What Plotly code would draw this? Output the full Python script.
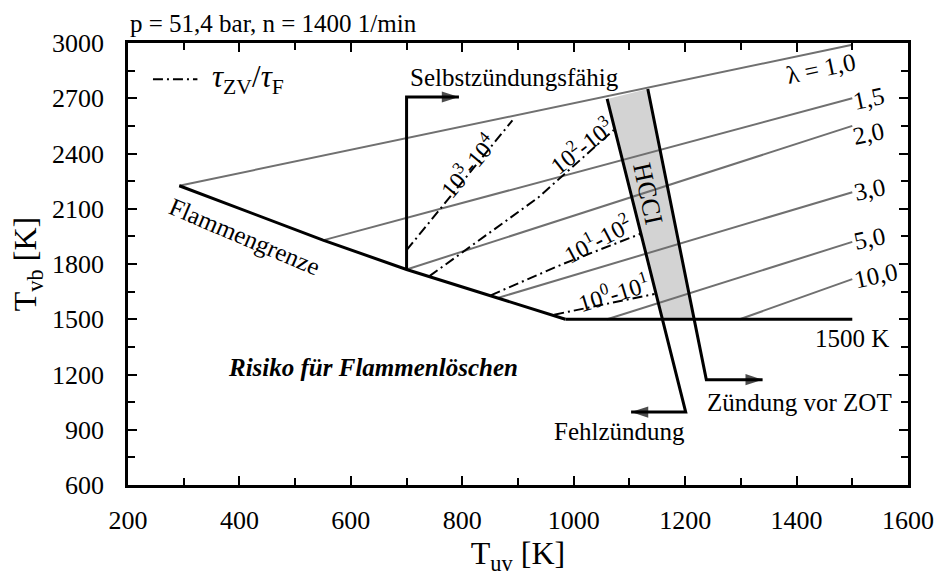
import plotly.graph_objects as go

SERIF = "Liberation Serif, Times New Roman, serif"

# Axis ranges and ticks
x_range = [200, 1600]
y_range = [600, 3000]
x_major, x_minor = 200, 100
y_major, y_minor = 300, 150

# Flammengrenze (flame limit) and the 1500 K floor
flame_T_uv = [292, 550, 700, 850, 985]
flame_T_vb = [2225, 1930, 1770, 1630, 1500]
floor_T_uv = [985, 1500]
floor_T_vb = [1500, 1500]

# Air-ratio lines lambda: start on the limit curve, end at T_uv = 1500 K
lambda_labels = ["λ = 1,0", "1,5", "2,0", "3,0", "5,0", "10,0"]
lambda_uv_start = [292, 553, 700, 865, 1060, 1298]
lambda_vb_start = [2225, 1931, 1770, 1617, 1500, 1500]
lambda_uv_end = [1500, 1500, 1500, 1500, 1500, 1500]
lambda_vb_end = [2990, 2700, 2550, 2190, 1920, 1718]
lambda_label_uv = [1444, 1529, 1529, 1531, 1531, 1543]
lambda_label_vb = [2860, 2700, 2506, 2205, 1938, 1736]

# Ignition delay / flame time ratio lines
ratio_labels = ["10<sup>3</sup>-10<sup>4</sup>", "10<sup>2</sup>-10<sup>3</sup>",
                "10<sup>1</sup>-10<sup>2</sup>", "10<sup>0</sup>-10<sup>1</sup>"]
ratio_uv = [[700, 890], [741, 936, 1072], [851, 979, 1120], [965, 1145]]
ratio_vb = [[1875, 2580], [1734, 2160, 2528], [1630, 1798, 1964], [1525, 1637]]
ratio_label_uv = [810, 1014, 1043, 1071]
ratio_label_vb = [2338, 2445, 1940, 1648]
ratio_label_angle = [-50, -38, -28, -17]

# HCCI band: left boundary (misfire) and right boundary (ignition before TDC)
hcci_fill_uv = [1060, 1133, 1216, 1159]
hcci_fill_vb = [2696, 2750, 1500, 1500]
misfire_uv = [1060, 1201, 1103]
misfire_vb = [2696, 996, 996]
early_uv = [1133, 1238, 1339]
early_vb = [2750, 1172, 1172]

# Autoignition boundary
selbst_uv = [700, 700, 794]
selbst_vb = [1770, 2707, 2707]

GRAY = "#707070"
DASHDOT = "10px,4px,2px,4px"
fig = go.Figure()

fig.add_trace(go.Scatter(x=hcci_fill_uv, y=hcci_fill_vb, fill="toself",
                         fillcolor="#d3d3d3", line=dict(width=0),
                         mode="lines", showlegend=False, hoverinfo="skip"))

for i in range(len(lambda_labels)):
    fig.add_trace(go.Scatter(x=[lambda_uv_start[i], lambda_uv_end[i]],
                             y=[lambda_vb_start[i], lambda_vb_end[i]],
                             mode="lines", line=dict(color=GRAY, width=2),
                             showlegend=False))

for i in range(len(ratio_labels)):
    fig.add_trace(go.Scatter(x=ratio_uv[i], y=ratio_vb[i], mode="lines",
                             line=dict(color="black", width=2, dash=DASHDOT),
                             showlegend=False))

fig.add_trace(go.Scatter(x=flame_T_uv, y=flame_T_vb, mode="lines",
                         line=dict(color="black", width=3), showlegend=False))
fig.add_trace(go.Scatter(x=floor_T_uv, y=floor_T_vb, mode="lines",
                         line=dict(color="black", width=3), showlegend=False))

for xs, ys in [(selbst_uv, selbst_vb), (misfire_uv, misfire_vb), (early_uv, early_vb)]:
    fig.add_trace(go.Scatter(x=xs, y=ys, mode="lines+markers",
                             line=dict(color="black", width=3),
                             marker=dict(symbol="arrow", angleref="previous",
                                         size=[0, 0, 18], color="black",
                                         line=dict(width=0)),
                             showlegend=False))

ann = []
for i, t in enumerate(lambda_labels):
    ann.append(dict(x=lambda_label_uv[i], y=lambda_label_vb[i], text=t,
                    textangle=-12, showarrow=False, font=dict(size=25)))
for i, t in enumerate(ratio_labels):
    ann.append(dict(x=ratio_label_uv[i], y=ratio_label_vb[i], text=t,
                    textangle=ratio_label_angle[i], showarrow=False,
                    font=dict(size=24)))

ann += [
    dict(x=1133, y=2183, text="HCCI", textangle=78, showarrow=False, font=dict(size=26)),
    dict(x=409, y=1948, text="Flammengrenze", textangle=23, showarrow=False, font=dict(size=25)),
    dict(x=893, y=2814, text="Selbstzündungsfähig", showarrow=False, font=dict(size=25)),
    dict(x=640, y=1236, text="<b><i>Risiko für Flammenlöschen</i></b>", showarrow=False,
         font=dict(size=25)),
    dict(x=1500, y=1397, text="1500 K", showarrow=False, font=dict(size=25)),
    dict(x=1405, y=1049, text="Zündung vor ZOT", showarrow=False, font=dict(size=25)),
    dict(x=1082, y=889, text="Fehlzündung", showarrow=False, font=dict(size=25)),
    dict(x=0, y=1, xref="paper", yref="paper", xanchor="left", yanchor="bottom",
         yshift=4, text="p = 51,4 bar, n = 1400 1/min", showarrow=False,
         font=dict(size=25)),
    # key for the dash-dot ratio lines
    dict(x=0.105, y=0.918, xref="paper", yref="paper", xanchor="left", yanchor="middle",
         text="<i>τ</i><sub>ZV</sub>/<i>τ</i><sub>F</sub>", showarrow=False,
         font=dict(size=31)),
]

key_line = dict(type="line", xref="paper", yref="paper", x0=0.032, x1=0.089,
                y0=0.918, y1=0.918, line=dict(color="black", width=2, dash=DASHDOT))

axis_common = dict(showline=True, linecolor="black", linewidth=2.5, mirror="allticks",
                   ticks="inside", ticklen=9, tickwidth=1.5, tickcolor="black",
                   showgrid=False, zeroline=False,
                   tickfont=dict(family=SERIF, size=26, color="black"))

fig.update_layout(
    width=946, height=577,
    margin=dict(l=128, r=29, t=43, b=85),
    paper_bgcolor="white", plot_bgcolor="white",
    font=dict(family=SERIF, color="black", size=25),
    annotations=ann,
    shapes=[key_line],
    showlegend=False,
    xaxis=dict(range=x_range, dtick=x_major, tick0=200,
               minor=dict(dtick=x_minor, ticks="inside", ticklen=7, tickwidth=1.5,
                          tickcolor="black"),
               ticklabelstandoff=10,
               title=dict(text="T<sub>uv</sub> [K]", font=dict(family=SERIF, size=32),
                          standoff=8),
               **axis_common),
    yaxis=dict(range=y_range, dtick=y_major, tick0=600,
               minor=dict(dtick=y_minor, ticks="inside", ticklen=7, tickwidth=1.5,
                          tickcolor="black"),
               ticklabelstandoff=16,
               title=dict(text="T<sub>vb</sub> [K]", font=dict(family=SERIF, size=32),
                          standoff=6),
               **axis_common),
)

fig.write_html("out.html")
